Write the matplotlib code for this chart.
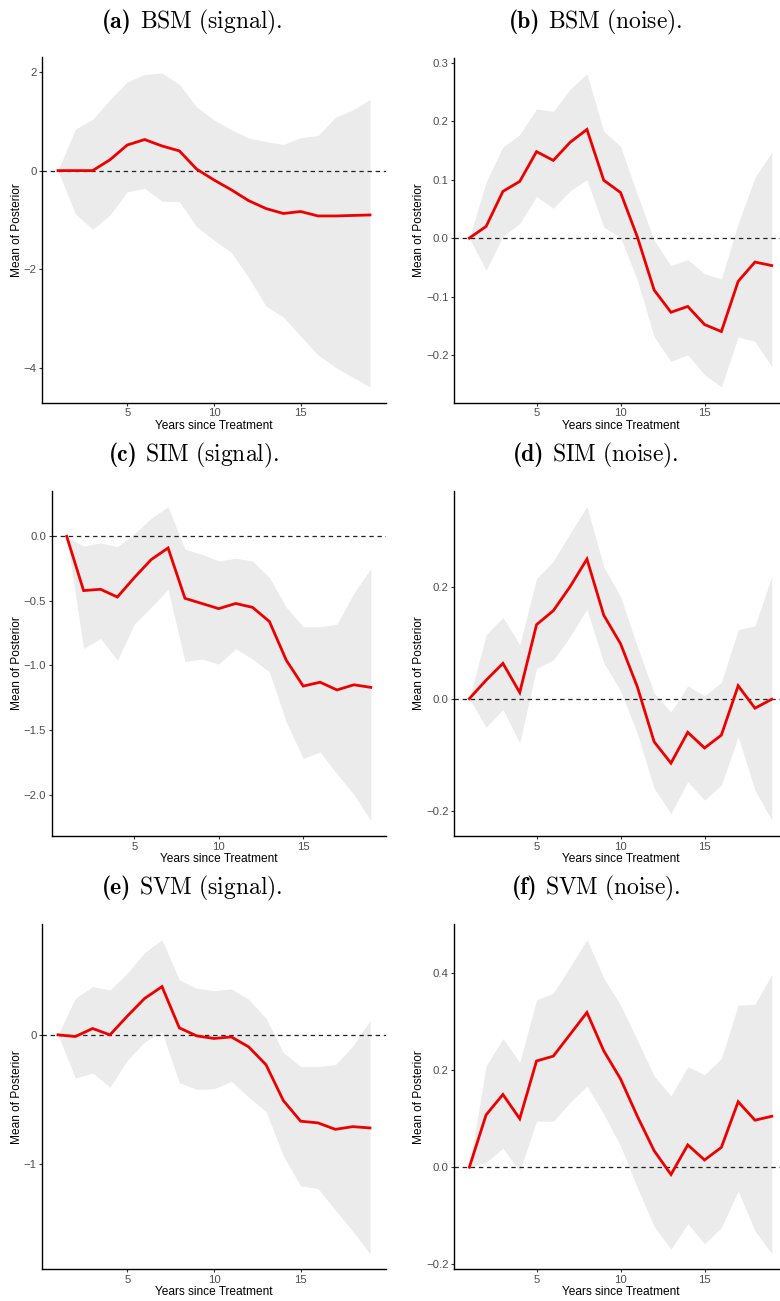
import numpy as np
import matplotlib
matplotlib.use("Agg")
import matplotlib.pyplot as plt

plt.rcParams['font.family'] = ['Liberation Sans', 'DejaVu Sans']
plt.rcParams['mathtext.fontset'] = 'cm'

years = list(range(1, 20))

# (a) BSM signal
bsm_sig_mean = [0, 0, 0, 0.22, 0.52, 0.63, 0.50, 0.40, 0.03, -0.19, -0.39, -0.61, -0.77, -0.87, -0.83, -0.92, -0.92, -0.91, -0.90]
bsm_sig_hi = [0, 0.84, 1.04, 1.44, 1.80, 1.95, 1.98, 1.75, 1.29, 1.03, 0.83, 0.66, 0.59, 0.53, 0.67, 0.71, 1.08, 1.23, 1.44]
bsm_sig_lo = [0, -0.88, -1.19, -0.90, -0.43, -0.36, -0.62, -0.63, -1.14, -1.41, -1.66, -2.17, -2.75, -2.97, -3.36, -3.74, -3.99, -4.19, -4.39]

# (b) BSM noise
bsm_noi_mean = [0, 0.020, 0.080, 0.097, 0.148, 0.133, 0.164, 0.186, 0.099, 0.078, 0.002, -0.089, -0.127, -0.117, -0.148, -0.160, -0.074, -0.041, -0.047]
bsm_noi_hi = [0, 0.096, 0.156, 0.177, 0.221, 0.217, 0.255, 0.281, 0.183, 0.157, 0.075, -0.004, -0.047, -0.037, -0.061, -0.070, 0.025, 0.104, 0.147]
bsm_noi_lo = [0, -0.055, 0.003, 0.025, 0.071, 0.051, 0.081, 0.100, 0.019, 0.001, -0.072, -0.169, -0.211, -0.200, -0.234, -0.255, -0.169, -0.177, -0.220]

# (c) SIM signal
sim_sig_mean = [0, -0.42, -0.41, -0.47, -0.32, -0.18, -0.09, -0.48, -0.52, -0.56, -0.52, -0.55, -0.66, -0.96, -1.16, -1.13, -1.19, -1.15, -1.17]
sim_sig_hi = [0, -0.075, -0.05, -0.08, 0.02, 0.14, 0.23, -0.10, -0.14, -0.19, -0.17, -0.19, -0.32, -0.55, -0.70, -0.70, -0.68, -0.44, -0.25]
sim_sig_lo = [0, -0.87, -0.79, -0.96, -0.68, -0.55, -0.41, -0.97, -0.95, -0.99, -0.87, -0.95, -1.05, -1.44, -1.72, -1.67, -1.84, -2.00, -2.20]

# (d) SIM noise
sim_noi_mean = [0, 0.033, 0.063, 0.011, 0.132, 0.157, 0.200, 0.249, 0.149, 0.098, 0.021, -0.077, -0.115, -0.060, -0.088, -0.065, 0.023, -0.017, -0.001]
sim_noi_hi = [0, 0.114, 0.145, 0.096, 0.214, 0.245, 0.295, 0.343, 0.235, 0.182, 0.093, 0.010, -0.024, 0.023, 0.005, 0.029, 0.123, 0.130, 0.218]
sim_noi_lo = [0, -0.051, -0.019, -0.079, 0.054, 0.069, 0.111, 0.160, 0.064, 0.014, -0.062, -0.160, -0.205, -0.148, -0.181, -0.154, -0.068, -0.163, -0.217]

# (e) SVM signal
svm_sig_mean = [0, -0.013, 0.049, 0, 0.145, 0.282, 0.373, 0.054, -0.008, -0.028, -0.016, -0.093, -0.231, -0.508, -0.668, -0.681, -0.731, -0.710, -0.720]
svm_sig_hi = [0, 0.282, 0.373, 0.347, 0.477, 0.637, 0.736, 0.425, 0.360, 0.342, 0.355, 0.275, 0.127, -0.137, -0.244, -0.244, -0.231, -0.088, 0.109]
svm_sig_lo = [0, -0.334, -0.295, -0.404, -0.197, -0.054, 0.023, -0.370, -0.422, -0.417, -0.360, -0.482, -0.591, -0.935, -1.168, -1.189, -1.355, -1.518, -1.692]

# (f) SVM noise
svm_noi_mean = [0, 0.108, 0.150, 0.100, 0.219, 0.229, 0.274, 0.319, 0.240, 0.182, 0.105, 0.034, -0.015, 0.046, 0.015, 0.041, 0.135, 0.097, 0.105]
svm_noi_hi = [0, 0.209, 0.265, 0.216, 0.345, 0.359, 0.413, 0.469, 0.390, 0.334, 0.262, 0.188, 0.147, 0.207, 0.191, 0.224, 0.334, 0.336, 0.397]
svm_noi_lo = [0, 0.010, 0.039, -0.008, 0.095, 0.095, 0.134, 0.167, 0.110, 0.044, -0.042, -0.122, -0.169, -0.116, -0.158, -0.124, -0.049, -0.131, -0.178]

tags = ['(a)', '(b)', '(c)', '(d)', '(e)', '(f)']
captions = ['BSM (signal).', 'BSM (noise).', 'SIM (signal).', 'SIM (noise).', 'SVM (signal).', 'SVM (noise).']

yticks = [[-4, -2, 0, 2], [-0.2, -0.1, 0.0, 0.1, 0.2, 0.3],
          [-2.0, -1.5, -1.0, -0.5, 0.0], [-0.2, 0.0, 0.2],
          [-1, 0], [-0.2, 0.0, 0.2, 0.4]]
ydec = [0, 1, 1, 1, 0, 1]

panels = [(bsm_sig_mean, bsm_sig_lo, bsm_sig_hi), (bsm_noi_mean, bsm_noi_lo, bsm_noi_hi),
          (sim_sig_mean, sim_sig_lo, sim_sig_hi), (sim_noi_mean, sim_noi_lo, sim_noi_hi),
          (svm_sig_mean, svm_sig_lo, svm_sig_hi), (svm_noi_mean, svm_noi_lo, svm_noi_hi)]

W, H = 780, 1301
# axes boxes in pixels: left, right, top, bottom
boxes = [(42.4, 385.6, 57.3, 402.7), (454.2, 786.9, 58.3, 402.7),
         (51.5, 386.0, 491.0, 836.0), (454.2, 786.9, 490.7, 836.0),
         (42.4, 385.6, 924.0, 1269.3), (454.2, 786.9, 924.0, 1269.3)]
title_xy = [(192, 28), (596, 28), (194, 461), (596, 461), (192, 894), (596, 894)]

fig = plt.figure(figsize=(W / 100, H / 100), dpi=100)
renderer = fig.canvas.get_renderer()
TFS = 17

for i, (mean, lo, hi) in enumerate(panels):
    l, r, t, b = boxes[i]
    ax = fig.add_axes([l / W, 1 - b / H, (r - l) / W, (b - t) / H])
    ax.fill_between(years, lo, hi, color='#EBEBEB', linewidth=0)
    ax.axhline(0, color='#222222', linewidth=0.9, linestyle=(0, (3.5, 3)))
    ax.plot(years, mean, color='#EE0000', linewidth=2.0, solid_joinstyle='miter')
    ax.margins(x=0.05, y=0.05)
    ax.set_xticks([5, 10, 15])
    fmt = '{:.%df}' % ydec[i]
    ax.set_yticks(yticks[i], [fmt.format(v).replace('-', '\u2212') for v in yticks[i]])
    for s in ['top', 'right']:
        ax.spines[s].set_visible(False)
    for s in ['left', 'bottom']:
        ax.spines[s].set_linewidth(1.0)
        ax.spines[s].set_color('black')
    ax.tick_params(axis='both', length=2.5, width=0.8, color='#333333',
                   labelsize=8.2, labelcolor='#4D4D4D', pad=1.5)
    ax.set_xlabel('Years since Treatment', fontsize=8.6, labelpad=1)
    ax.set_ylabel('Mean of Posterior', fontsize=8.6, labelpad=0.5)

    # caption: bold tag + roman text, centred as one line
    tx, ty = title_xy[i]
    t1 = fig.text(0, 1 - ty / H, tags[i], fontsize=TFS, fontfamily='cmb10', va='baseline')
    t2 = fig.text(0, 1 - ty / H, r'$\mathrm{' + captions[i].replace(' ', r'\ ') + '}$',
                  fontsize=TFS, va='baseline')
    w1 = t1.get_window_extent(renderer).width
    w2 = t2.get_window_extent(renderer).width
    gap = TFS * 0.33 * 100 / 72
    x0 = tx - (w1 + gap + w2) / 2
    t1.set_x(x0 / W)
    t2.set_x((x0 + w1 + gap) / W)

fig.savefig('out.png', dpi=100)
